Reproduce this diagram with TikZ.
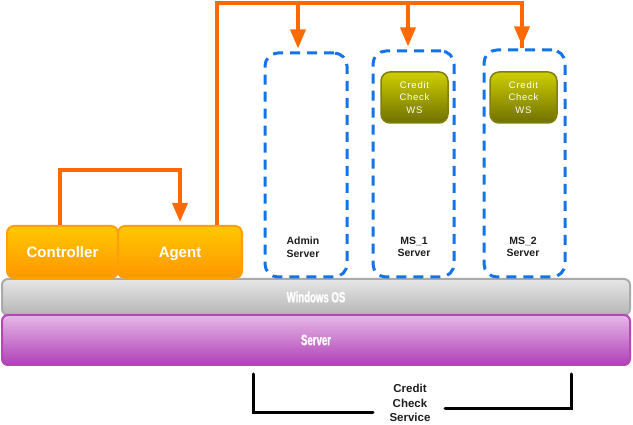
\documentclass[tikz,border=0pt]{standalone}
\usepackage{fontspec}
\setmainfont{Liberation Sans}
\newfontfamily\narrowbold[FakeStretch=0.64,FakeBold=1.2]{Liberation Sans Bold}
\newfontfamily\wsfont[LetterSpace=8]{Liberation Sans}
\usetikzlibrary{arrows.meta}
\definecolor{olinec}{RGB}{255,106,0}
\definecolor{dashblue}{RGB}{18,116,232}
\definecolor{orgtop}{RGB}{255,200,0}
\definecolor{orgbot}{RGB}{255,150,0}
\definecolor{orgborder}{RGB}{255,160,10}
\definecolor{olvtop}{RGB}{206,206,0}
\definecolor{olvbot}{RGB}{112,112,0}
\definecolor{olvborder}{RGB}{128,128,10}
\definecolor{grytop}{RGB}{230,230,230}
\definecolor{grybot}{RGB}{182,182,182}
\definecolor{gryborder}{RGB}{170,170,170}
\definecolor{purtop}{RGB}{230,184,230}
\definecolor{purbot}{RGB}{176,64,184}
\definecolor{purborder}{RGB}{180,72,180}
\definecolor{lbltext}{RGB}{30,30,30}
\tikzset{
  orgbox/.style={rounded corners=7pt, draw=orgborder, line width=2pt, top color=orgtop, bottom color=orgbot,
    text=white, font=\fontsize{15}{18}\selectfont\bfseries, inner sep=0pt, text height=11pt, text depth=0pt},
  dashbox/.style={rounded corners=13pt, draw=dashblue, line width=3pt, dash pattern=on 10pt off 7pt, inner sep=0pt},
  wsbox/.style={rounded corners=9pt, draw=olvborder, line width=1.5pt, top color=olvtop, bottom color=olvbot,
    text=white, font=\wsfont\fontsize{9.5}{12.3}\selectfont, align=center, inner sep=0pt},
  barbox/.style={rounded corners=6pt, line width=2pt, text=white, font=\narrowbold\fontsize{15}{16}\selectfont, inner sep=0pt},
  srvlbl/.style={text=lbltext, font=\fontsize{10.5}{12.5}\selectfont\bfseries, align=center, inner sep=0pt},
  oline/.style={draw=olinec, line width=3.5pt},
  oarrow/.style={oline, -{Triangle[width=15pt,length=19pt]}, shorten >=3pt},
  bracket/.style={draw=black, line width=3pt, line cap=round}
}
\begin{document}
\begin{tikzpicture}[x=1pt,y=-1pt]
\useasboundingbox (0,0) rectangle (633,425);
% bars
\node[barbox, draw=gryborder, top color=grytop, bottom color=grybot, minimum width=628pt, minimum height=36pt] (win) at (316,297) {Windows OS};
\node[barbox, draw=purborder, top color=purtop, bottom color=purbot, minimum width=628pt, minimum height=50pt] (srv) at (316,340) {Server};
% orange boxes
\node[orgbox, minimum width=111pt, minimum height=52pt] (ctrl) at (62.5,252) {Controller};
\node[orgbox, minimum width=124pt, minimum height=52pt] (agent) at (180,252) {Agent};
% dashed server boxes
\node[dashbox, minimum width=82pt, minimum height=224pt] (admin) at (306,165) {};
\node[dashbox, minimum width=81pt, minimum height=226pt] (ms1) at (413.5,164) {};
\node[dashbox, minimum width=81pt, minimum height=227pt] (ms2) at (524.5,163.5) {};
\node[srvlbl] (adminlbl) at (303,247) {Admin\\Server};
\node[srvlbl] (ms1lbl) at (414,247) {MS\_1\\Server};
\node[srvlbl] (ms2lbl) at (523,247) {MS\_2\\Server};
% WS boxes
\node[wsbox, minimum width=67pt, minimum height=51pt] (ws1) at (414.5,97.5) {Credit\\Check\\WS};
\node[wsbox, minimum width=67pt, minimum height=51pt] (ws2) at (523.5,97.5) {Credit\\Check\\WS};
% connectors
\draw[oarrow] ([xshift=-2.5pt]ctrl.north) -- ++(0,-55) -| (agent.north);
\draw[oline] ([xshift=37pt]agent.north) -- ++(0,-222) coordinate (tl) -| ([xshift=-2.5pt]ms2.north);
\draw[oarrow] ([xshift=-2.5pt]ms2.north |- tl) -- ([xshift=-2.5pt]ms2.north);
\draw[oarrow] ([xshift=-8pt]admin.north |- tl) -- ([xshift=-8pt]admin.north);
\draw[oarrow] ([xshift=-5.5pt]ms1.north |- tl) -- ([xshift=-5.5pt]ms1.north);
% credit check service bracket
\node[srvlbl, font=\fontsize{11.5}{14.5}\selectfont\bfseries] (ccs) at (410,403) {Credit\\Check\\Service};
\coordinate (bl) at (253,374);
\coordinate (blend) at (373,412);
\coordinate (br) at (571,374);
\coordinate (brend) at (445,408);
\draw[bracket] (bl) |- (blend);
\draw[bracket] (br) |- (brend);
\end{tikzpicture}
\end{document}
